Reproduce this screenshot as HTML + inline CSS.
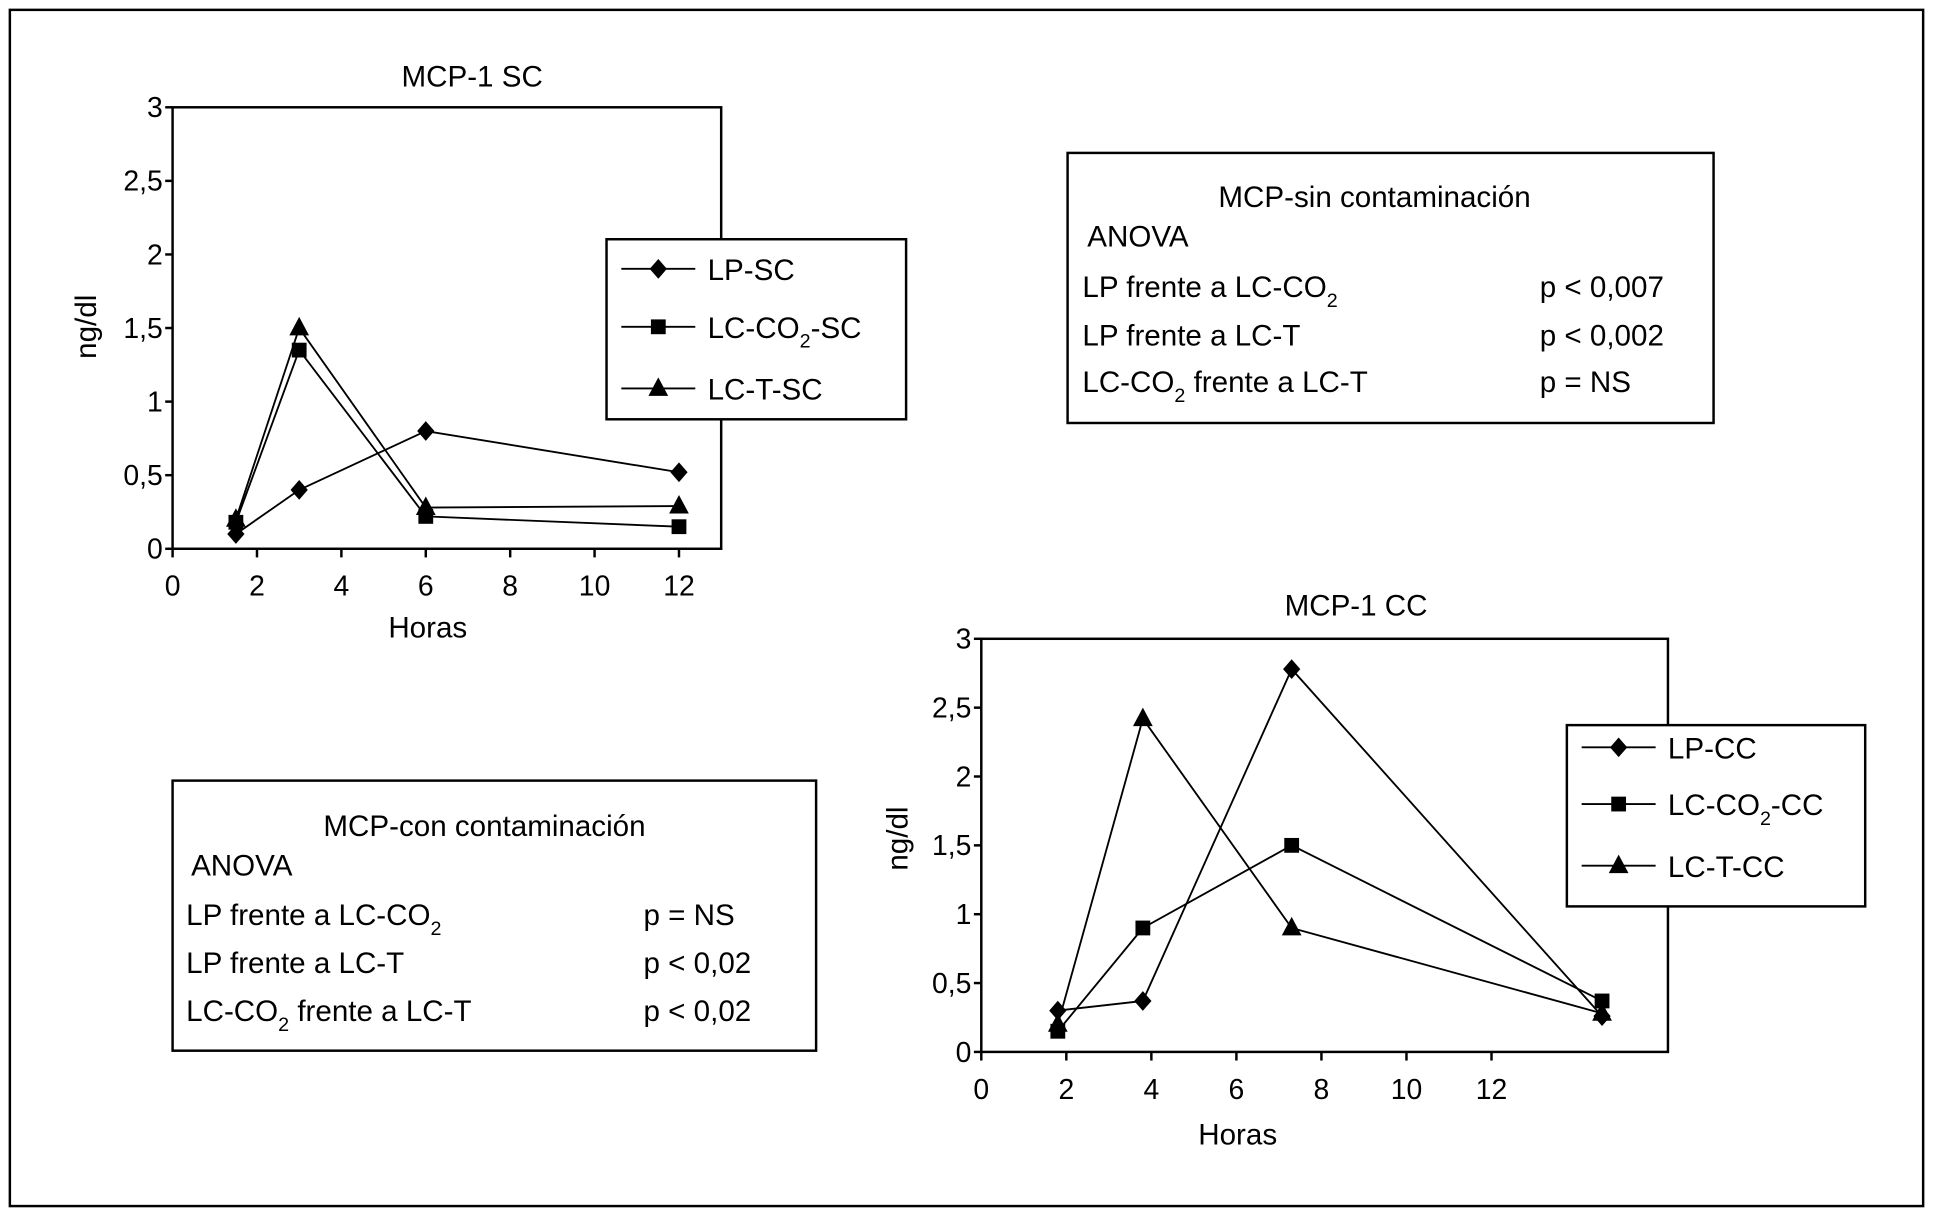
<!DOCTYPE html>
<html><head><meta charset="utf-8"><style>
html,body{margin:0;padding:0;background:#fff}
svg{display:block}
text{font-family:"Liberation Sans",sans-serif;fill:#000}
</style></head><body>
<svg id="fig" width="1933" height="1211" viewBox="0 0 1568 982" preserveAspectRatio="none">
<rect x="8" y="8" width="1552" height="970" fill="none" stroke="#000" stroke-width="2"/>
<g id="c1"></g>
<g id="c2"></g>
<g>
<rect x="866" y="124" width="524" height="219" fill="#fff" stroke="#000" stroke-width="2"/>
<text x="1115" y="168" font-size="24" text-anchor="middle">MCP-sin contaminación</text>
<text x="882" y="200" font-size="24">ANOVA</text>
<text x="878" y="241" font-size="24">LP frente a LC-CO<tspan font-size="16" dy="8">2</tspan></text>
<text x="1249" y="241" font-size="24">p &lt; 0,007</text>
<text x="878" y="280" font-size="24">LP frente a LC-T</text>
<text x="1249" y="280" font-size="24">p &lt; 0,002</text>
<text x="878" y="318" font-size="24">LC-CO<tspan font-size="16" dy="8">2</tspan><tspan dy="-8"> frente a LC-T</tspan></text>
<text x="1249" y="318" font-size="24">p = NS</text>
</g>
<g>
<rect x="140" y="633" width="522" height="219" fill="#fff" stroke="#000" stroke-width="2"/>
<text x="393" y="678" font-size="24" text-anchor="middle">MCP-con contaminación</text>
<text x="155" y="710" font-size="24">ANOVA</text>
<text x="151" y="750" font-size="24">LP frente a LC-CO<tspan font-size="16" dy="8">2</tspan></text>
<text x="522" y="750" font-size="24">p = NS</text>
<text x="151" y="789" font-size="24">LP frente a LC-T</text>
<text x="522" y="789" font-size="24">p &lt; 0,02</text>
<text x="151" y="828" font-size="24">LC-CO<tspan font-size="16" dy="8">2</tspan><tspan dy="-8"> frente a LC-T</tspan></text>
<text x="522" y="828" font-size="24">p &lt; 0,02</text>
</g>
</svg>
<script>
// Chart 1 data (MCP-1 SC)
const sc_hours_lp = [1.5, 3, 6, 12];
const sc_lp = [0.1, 0.4, 0.8, 0.52];
const sc_hours_co2 = [1.5, 3, 6, 12];
const sc_co2 = [0.18, 1.35, 0.22, 0.15];
const sc_hours_t = [1.5, 3, 6, 12];
const sc_t = [0.2, 1.5, 0.28, 0.29];
// Chart 2 data (MCP-1 CC)
const cc_hours = [1.8, 3.8, 7.3, 14.6];
const cc_lp = [0.3, 0.37, 2.78, 0.26];
const cc_co2 = [0.15, 0.9, 1.5, 0.37];
const cc_t = [0.2, 2.42, 0.9, 0.28];
const xTicks = [0, 2, 4, 6, 8, 10, 12];
const yTicks = [0, 0.5, 1, 1.5, 2, 2.5, 3];
const yTickLabels = ["0", "0,5", "1", "1,5", "2", "2,5", "3"];

const NS = "http://www.w3.org/2000/svg";
function mk(parent, tag, attrs, txt){
  const e = document.createElementNS(NS, tag);
  for (const k in attrs) e.setAttribute(k, attrs[k]);
  if (txt !== undefined) e.textContent = txt;
  parent.appendChild(e);
  return e;
}
function marker(g, kind, x, y){
  let e;
  if (kind === 'diamond') e = mk(g, 'polygon', {points:`${x},${y-8} ${x+7},${y} ${x},${y+8} ${x-7},${y}`, fill:'#000'});
  else if (kind === 'square') e = mk(g, 'rect', {x:x-6, y:y-6, width:12, height:12, fill:'#000'});
  else e = mk(g, 'polygon', {points:`${x},${y-9} ${x+8},${y+6} ${x-8},${y+6}`, fill:'#000'});
  return e;
}
function drawChart(g, cfg){
  const {L,T,R,B,xmax,title,titleX,titleY,horasX,horasY,ylabX,ylabY,series,legend} = cfg;
  const sx = v => L + v/xmax*(R-L);
  const sy = v => B - v/3*(B-T);
  mk(g,'text',{x:titleX,y:titleY,'font-size':24,'text-anchor':'middle'},title);
  mk(g,'rect',{x:L,y:T,width:R-L,height:B-T,fill:'none',stroke:'#000','stroke-width':2});
  yTicks.forEach((v,i)=>{
    const t = mk(g,'line',{x1:L-6,x2:L,y1:sy(v),y2:sy(v),stroke:'#000','stroke-width':2});
    
    
    const l = mk(g,'text',{x:L-8,y:sy(v)+8,'font-size':23,'text-anchor':'end'},yTickLabels[i]);
    
    
  });
  xTicks.forEach(v=>{
    const t = mk(g,'line',{x1:sx(v),x2:sx(v),y1:B,y2:B+7,stroke:'#000','stroke-width':2});
    
    
    const l = mk(g,'text',{x:sx(v),y:B+38,'font-size':23,'text-anchor':'middle'},String(v));
    
    
  });
  const xt = mk(g,'text',{x:horasX,y:horasY,'font-size':24,'text-anchor':'middle'},'Horas');
  
  
  const yt = mk(g,'text',{x:ylabX,y:ylabY,'font-size':24,'text-anchor':'middle',transform:`rotate(-90 ${ylabX} ${ylabY})`},'ng/dl');
  
  
  series.forEach(s=>{
    const sg = mk(g,'g',{});
    
    
    const pts = s.xs.map((x,i)=>`${sx(x)},${sy(s.ys[i])}`).join(' ');
    mk(sg,'polyline',{points:pts,fill:'none',stroke:'#000','stroke-width':1.5});
    s.xs.forEach((x,i)=>{
      const m = marker(sg, s.kind, sx(x), sy(s.ys[i]));
      
      
    });
  });
  const lg = mk(g,'g',{});
  
  
  mk(lg,'rect',{x:legend.x,y:legend.y,width:legend.w,height:legend.h,fill:'#fff',stroke:'#000','stroke-width':2});
  series.forEach((s,i)=>{
    const e = mk(lg,'g',{});
    
    
    const y = legend.y + legend.rows[i];
    mk(e,'line',{x1:legend.x+12,x2:legend.x+72,y1:y,y2:y,stroke:'#000','stroke-width':1.5});
    marker(e, s.kind, legend.x+42, y);
    const t = mk(e,'text',{x:legend.x+82,y:y+9,'font-size':24});
    t.appendChild(document.createTextNode(s.lab[0]));
    if (s.lab.length>1){
      mk(t,'tspan',{'font-size':16,dy:8},'2');
      mk(t,'tspan',{dy:-8},s.lab[1]);
    }
  });
}
drawChart(document.getElementById('c1'),{
  L:140,T:87,R:585,B:445,xmax:13,title:'MCP-1 SC',titleX:383,titleY:70,
  horasX:347,horasY:517,ylabX:78,ylabY:265,
  series:[
    {id:'lp-sc',kind:'diamond',xs:sc_hours_lp,ys:sc_lp,lab:['LP-SC']},
    {id:'lc-co2-sc',kind:'square',xs:sc_hours_co2,ys:sc_co2,lab:['LC-CO','-SC']},
    {id:'lc-t-sc',kind:'tri',xs:sc_hours_t,ys:sc_t,lab:['LC-T-SC']}
  ],
  legend:{x:492,y:194,w:243,h:146,rows:[24,71,121]}
});
drawChart(document.getElementById('c2'),{
  L:796,T:518,R:1353,B:853,xmax:16.15,title:'MCP-1 CC',titleX:1100,titleY:499,
  horasX:1004,horasY:928,ylabX:736,ylabY:680,
  series:[
    {id:'lp-cc',kind:'diamond',xs:cc_hours,ys:cc_lp,lab:['LP-CC']},
    {id:'lc-co2-cc',kind:'square',xs:cc_hours,ys:cc_co2,lab:['LC-CO','-CC']},
    {id:'lc-t-cc',kind:'tri',xs:cc_hours,ys:cc_t,lab:['LC-T-CC']}
  ],
  legend:{x:1271,y:588,w:242,h:147,rows:[18,64,114]}
});
</script>
</body></html>
